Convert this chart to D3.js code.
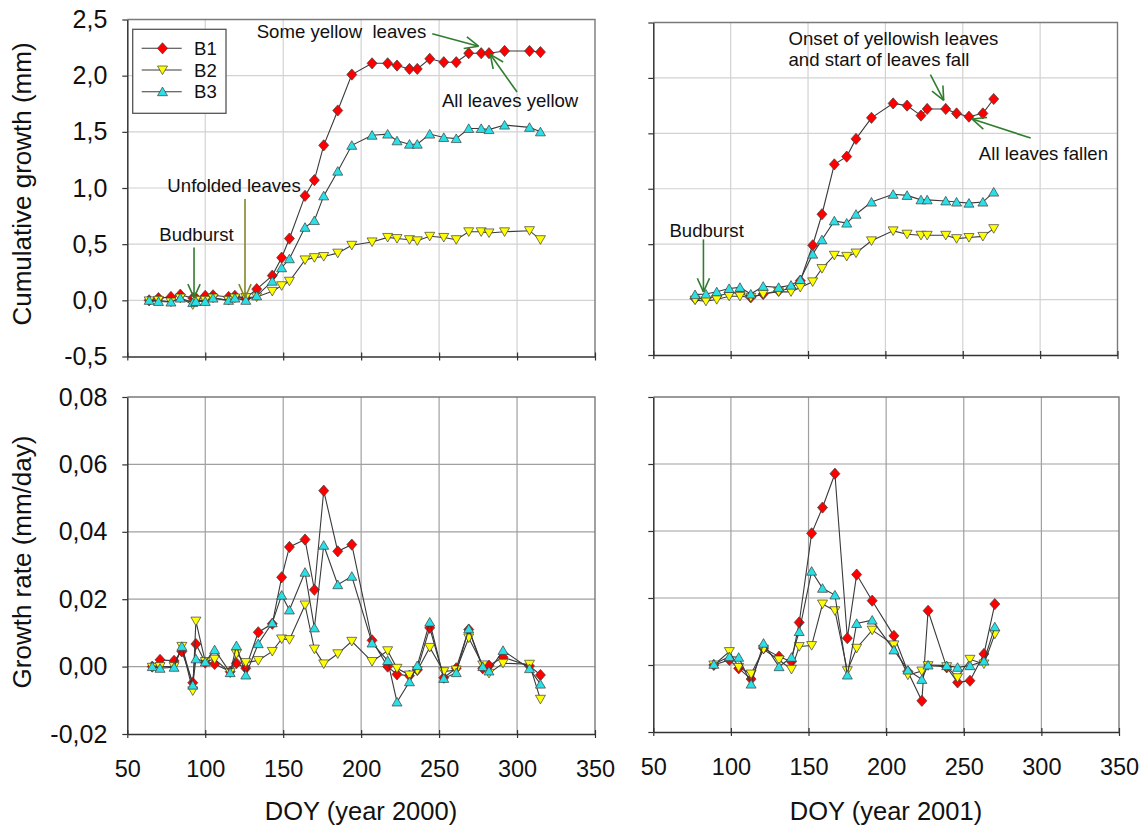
<!DOCTYPE html>
<html><head><meta charset="utf-8">
<script src="https://cdn.jsdelivr.net/npm/d3@7"></script>
<style>
body{margin:0;background:#fff}
text{font-family:"Liberation Sans",Arial,Helvetica,sans-serif;fill:#111}
</style>
</head><body>
<svg id="c" width="1148" height="826"></svg>
<script>
// ---------------- DATA ----------------
const seriesNames = ["B1", "B2", "B3"];
const seriesColors = ["#ff0000", "#ffff00", "#2adfe6"];
const xTicks = [50, 100, 150, 200, 250, 300, 350];
const yTicksCum = [-0.5, 0, 0.5, 1, 1.5, 2, 2.5];
const yTicksRate = [-0.02, 0, 0.02, 0.04, 0.06, 0.08];

// year 2000 cumulative growth (mm)
const doy2000 = [64,70,78,84,92,94,100,105,115,119,126,133,143,149,154,164,170,176,185,194,207,217,223,231,236,244,253,261,269,277,282,292,308,315];
const cum2000_B1 = [0.00,0.02,0.03,0.05,0.02,0.02,0.04,0.045,0.03,0.04,0.02,0.10,0.22,0.38,0.55,0.93,1.07,1.38,1.69,2.01,2.11,2.11,2.09,2.06,2.06,2.15,2.12,2.12,2.20,2.20,2.20,2.22,2.22,2.21];
const cum2000_B2 = [-0.005,0.00,-0.015,0.02,-0.04,0.00,0.00,0.02,0.00,0.02,0.025,0.03,0.08,0.13,0.17,0.36,0.38,0.39,0.42,0.49,0.52,0.56,0.55,0.54,0.53,0.57,0.56,0.54,0.61,0.61,0.60,0.61,0.62,0.54];
const cum2000_B3 = [0.00,-0.01,-0.015,0.02,-0.02,-0.01,-0.01,0.02,0.00,0.02,0.00,0.04,0.17,0.29,0.37,0.65,0.71,0.93,1.15,1.38,1.47,1.48,1.42,1.39,1.39,1.48,1.45,1.44,1.53,1.53,1.52,1.56,1.54,1.50];

// year 2000 growth rate (mm/day)
const rateDoy2000 = [66,71,80,85,92,94,100,106,116,120,126,134,143,149,154,164,170,176,185,194,207,217,223,231,236,244,253,261,269,278,282,291,308,315];
const rate2000_B1 = [0.000,0.002,0.0017,0.0045,-0.0048,0.0067,0.0012,0.0008,-0.0015,0.001,-0.0005,0.0102,0.0127,0.0265,0.0355,0.0377,0.0228,0.0522,0.0342,0.0362,0.0078,0.0,-0.0023,-0.0027,-0.001,0.0115,-0.0033,-0.0005,0.011,-0.0005,0.0003,0.0028,0.0002,-0.0025];
const rate2000_B2 = [-0.0002,0.0,0.0,0.006,-0.0072,0.0135,0.0015,0.0022,-0.0018,0.0038,0.0012,0.0018,0.0045,0.0082,0.008,0.0183,0.0052,0.0008,0.0038,0.0075,0.0015,0.0047,-0.0005,-0.0025,-0.0012,0.0057,-0.0015,-0.001,0.0085,0.0005,-0.002,0.001,0.0007,-0.0097];
const rate2000_B3 = [0.0,-0.0005,-0.0002,0.006,-0.0055,0.0023,0.0014,0.005,-0.0018,0.0062,-0.0025,0.0068,0.013,0.0212,0.0168,0.028,0.0115,0.036,0.0243,0.0268,0.007,0.0018,-0.0105,-0.0045,0.0003,0.0132,-0.0035,-0.0018,0.0112,0.0,-0.0013,0.0048,-0.0006,-0.0052];

// year 2001 cumulative growth (mm)
const doy2001 = [77,84,91,99,106,113,121,131,139,145,153,159,167,175,181,191,205,214,223,227,239,246,254,263,270];
const cum2001_B1 = [0.01,0.01,0.03,0.06,0.06,0.02,0.05,0.08,0.10,0.17,0.49,0.77,1.22,1.29,1.45,1.64,1.77,1.75,1.66,1.72,1.72,1.68,1.65,1.68,1.81];
const cum2001_B2 = [-0.005,-0.015,0.0,0.03,0.03,0.02,0.05,0.07,0.07,0.11,0.16,0.28,0.40,0.39,0.42,0.53,0.62,0.59,0.58,0.58,0.58,0.55,0.56,0.57,0.64];
const cum2001_B3 = [0.045,0.05,0.07,0.10,0.11,0.05,0.12,0.11,0.13,0.18,0.41,0.54,0.71,0.69,0.77,0.88,0.95,0.94,0.90,0.90,0.89,0.88,0.87,0.88,0.97];

// year 2001 growth rate (mm/day)
const rateDoy2001 = [89,99,105,113,121,131,139,144,152,159,167,175,181,191,205,214,223,227,239,246,254,263,270];
const rate2001_B1 = [0.0,0.0015,-0.001,-0.0042,0.005,0.0025,0.001,0.0127,0.0393,0.047,0.0571,0.008,0.027,0.0192,0.0087,-0.002,-0.0107,0.0162,-0.0007,-0.0052,-0.0047,0.0033,0.0182];
const rate2001_B2 = [0.0,0.004,-0.0007,-0.0027,0.0047,0.0015,-0.0013,0.0055,0.0058,0.0182,0.0162,-0.0017,0.005,0.0104,0.006,-0.003,-0.0018,-0.0002,-0.0005,-0.0038,0.0017,0.0003,0.0092];
const rate2001_B3 = [0.0002,0.0025,0.0023,-0.0057,0.0065,-0.0005,0.0023,0.01,0.028,0.0229,0.0209,-0.003,0.0124,0.0134,0.0045,-0.0015,-0.0043,0.0,-0.0002,-0.0007,-0.0002,0.0012,0.0114];

// annotations (data coordinates: DOY, value)
const notes2000 = [
  {text:"Some yellow  leaves", x:133, y:2.333},
  {text:"All leaves yellow", x:251.8, y:1.717},
  {text:"Unfolded leaves", x:75.7, y:0.967},
  {text:"Budburst", x:70.5, y:0.53}
];
const arrows2000 = [
  {x1:245.6, y1:2.373, x2:275.3, y2:2.262, c:"#2f7d2f"},
  {x1:300, y1:1.854, x2:282.8, y2:2.19, c:"#2f7d2f"},
  {x1:125.5, y1:0.902, x2:125.5, y2:0.023, c:"#858528"},
  {x1:92.8, y1:0.47, x2:92.8, y2:0.023, c:"#2f7d2f"}
];
const notes2001 = [
  {text:"Onset of yellowish leaves", x:137.4, y:2.301},
  {text:"and start of leaves fall", x:137.4, y:2.111},
  {text:"All leaves fallen", x:260.4, y:1.26},
  {text:"Budburst", x:60.4, y:0.564}
];
const arrows2001 = [
  {x1:229.1, y1:2.03, x2:237.7, y2:1.797, c:"#2f7d2f"},
  {x1:293.9, y1:1.457, x2:256.1, y2:1.629, c:"#2f7d2f"},
  {x1:82.4, y1:0.543, x2:82.4, y2:0.069, c:"#2f7d2f"}
];

// ---------------- DRAW ----------------
const svg = d3.select("#c");
const fmt = dec => d => d3.format("." + dec + "f")(d).replace("\u2212", "-").replace(".", ",");

const panels = [
  {xr:[127.3,595], yr:[356.5,19.5], ydom:[-0.5,2.5], yt:yTicksCum, dec:1, ylab:true, xlab:false,
   xs:doy2000, ys:[cum2000_B1,cum2000_B2,cum2000_B3], grid:"#d2d2d2", notes:notes2000, arrows:arrows2000, legend:true},
  {xr:[653.3,1117.5], yr:[355,22.5], ydom:[-0.5,2.5], yt:yTicksCum, dec:1, ylab:false, xlab:false,
   xs:doy2001, ys:[cum2001_B1,cum2001_B2,cum2001_B3], grid:"#d2d2d2", notes:notes2001, arrows:arrows2001},
  {xr:[127.3,595], yr:[734,397], ydom:[-0.02,0.08], yt:yTicksRate, dec:2, ylab:true, xlab:true,
   xs:rateDoy2000, ys:[rate2000_B1,rate2000_B2,rate2000_B3], grid:"#a0a0a0"},
  {xr:[653.3,1119], yr:[732,397], ydom:[-0.02,0.08], yt:yTicksRate, dec:2, ylab:false, xlab:true,
   xs:rateDoy2001, ys:[rate2001_B1,rate2001_B2,rate2001_B3], grid:"#a0a0a0"}
];

const shapes = [
  "M0,-5.6L5,0L0,5.6L-5,0Z",      // diamond
  "M0,4.6L5,-4L-5,-4Z",            // down triangle
  "M0,-4.6L5,4L-5,4Z"              // up triangle
];

function drawArrow(g, x1, y1, x2, y2, color) {
  g.append("line").attr("x1", x1).attr("y1", y1).attr("x2", x2).attr("y2", y2)
    .attr("stroke", color).attr("stroke-width", 1.6);
  const ang = Math.atan2(y2 - y1, x2 - x1);
  [-0.42, 0.42].forEach(da => {
    const a = ang + Math.PI + da;
    g.append("line").attr("x1", x2).attr("y1", y2)
      .attr("x2", x2 + 15 * Math.cos(a)).attr("y2", y2 + 15 * Math.sin(a))
      .attr("stroke", color).attr("stroke-width", 1.6);
  });
}

panels.forEach(p => {
  const x = d3.scaleLinear().domain([50, 350]).range(p.xr);
  const y = d3.scaleLinear().domain(p.ydom).range(p.yr);
  const g = svg.append("g");

  // grid
  g.selectAll(".vg").data(xTicks.slice(1, -1)).join("line")
    .attr("x1", d => x(d)).attr("x2", d => x(d)).attr("y1", p.yr[0]).attr("y2", p.yr[1])
    .attr("stroke", p.grid).attr("stroke-width", 1.2);
  g.selectAll(".hg").data(p.yt.slice(1, -1)).join("line")
    .attr("x1", p.xr[0]).attr("x2", p.xr[1]).attr("y1", d => y(d)).attr("y2", d => y(d))
    .attr("stroke", p.grid).attr("stroke-width", 1.2);

  // frame top/right
  g.append("path")
    .attr("d", `M${p.xr[0]},${p.yr[1]}H${p.xr[1]}V${p.yr[0]}`)
    .attr("fill", "none").attr("stroke", "#7a7a7a").attr("stroke-width", 1.4);

  // left axis
  const ya = d3.axisLeft(y).tickValues(p.yt).tickSizeInner(5).tickSizeOuter(0).tickPadding(15)
    .tickFormat(p.ylab ? fmt(p.dec) : () => "");
  const yg = g.append("g").attr("transform", `translate(${p.xr[0]},0)`).call(ya);
  yg.select(".domain").attr("stroke", "#333").attr("stroke-width", 1.5);
  yg.selectAll(".tick line").attr("stroke", "#333").attr("stroke-width", 1.2);
  yg.selectAll("text").style("font-size", "25px").attr("fill", "#111");

  // bottom axis
  const xa = d3.axisBottom(x).tickValues(xTicks).tickSizeInner(4).tickSizeOuter(0).tickPadding(22)
    .tickFormat(p.xlab ? d3.format("d") : () => "");
  const xg = g.append("g").attr("transform", `translate(0,${p.yr[0]})`).call(xa);
  xg.select(".domain").attr("stroke", "#333").attr("stroke-width", 1.5);
  xg.selectAll(".tick line").attr("y1", -4).attr("stroke", "#333").attr("stroke-width", 1.2);
  xg.selectAll("text").style("font-size", "23.5px").attr("fill", "#111");

  // series
  const line = d3.line().x((d, i) => x(d.x)).y(d => y(d.y));
  p.ys.forEach((vals, si) => {
    const pts = vals.map((v, i) => ({x: p.xs[i], y: v}));
    g.append("path").datum(pts).attr("d", line)
      .attr("fill", "none").attr("stroke", "#3a3a3a").attr("stroke-width", 1.1);
    g.selectAll(null).data(pts).join("path")
      .attr("d", shapes[si])
      .attr("transform", d => `translate(${x(d.x)},${y(d.y)})`)
      .attr("fill", seriesColors[si]).attr("stroke", "#3c3c3c").attr("stroke-width", 0.7);
  });

  // annotations
  (p.arrows || []).forEach(a => drawArrow(g, x(a.x1), y(a.y1), x(a.x2), y(a.y2), a.c));
  (p.notes || []).forEach(n => {
    g.append("text").attr("x", x(n.x)).attr("y", y(n.y)).style("font-size", "18.6px")
      .style("white-space", "pre").attr("xml:space", "preserve").text(n.text);
  });

  // legend
  if (p.legend) {
    const lg = g.append("g");
    lg.append("rect").attr("x", 132.7).attr("y", 29.3).attr("width", 93.3).attr("height", 84)
      .attr("fill", "#fff").attr("stroke", "#555").attr("stroke-width", 1.3);
    seriesNames.forEach((s, i) => {
      const ry = 48.3 + i * 21.7;
      lg.append("line").attr("x1", 141.7).attr("x2", 181.7).attr("y1", ry).attr("y2", ry)
        .attr("stroke", "#3a3a3a").attr("stroke-width", 1.1);
      lg.append("path").attr("d", shapes[i]).attr("transform", `translate(162.5,${ry})`)
        .attr("fill", seriesColors[i]).attr("stroke", "#3c3c3c").attr("stroke-width", 0.7);
      lg.append("text").attr("x", 194).attr("y", ry + 6.7).style("font-size", "18.6px").text(s);
    });
  }
});

// axis titles
svg.append("text").attr("transform", "translate(31,184) rotate(-90)").attr("text-anchor", "middle")
  .style("font-size", "26px").text("Cumulative growth (mm)");
svg.append("text").attr("transform", "translate(31,562) rotate(-90)").attr("text-anchor", "middle")
  .style("font-size", "26px").text("Growth rate (mm/day)");
svg.append("text").attr("x", 361).attr("y", 820).attr("text-anchor", "middle")
  .style("font-size", "25.5px").text("DOY (year 2000)");
svg.append("text").attr("x", 886).attr("y", 820).attr("text-anchor", "middle")
  .style("font-size", "25.5px").text("DOY (year 2001)");
</script>
</body></html>
